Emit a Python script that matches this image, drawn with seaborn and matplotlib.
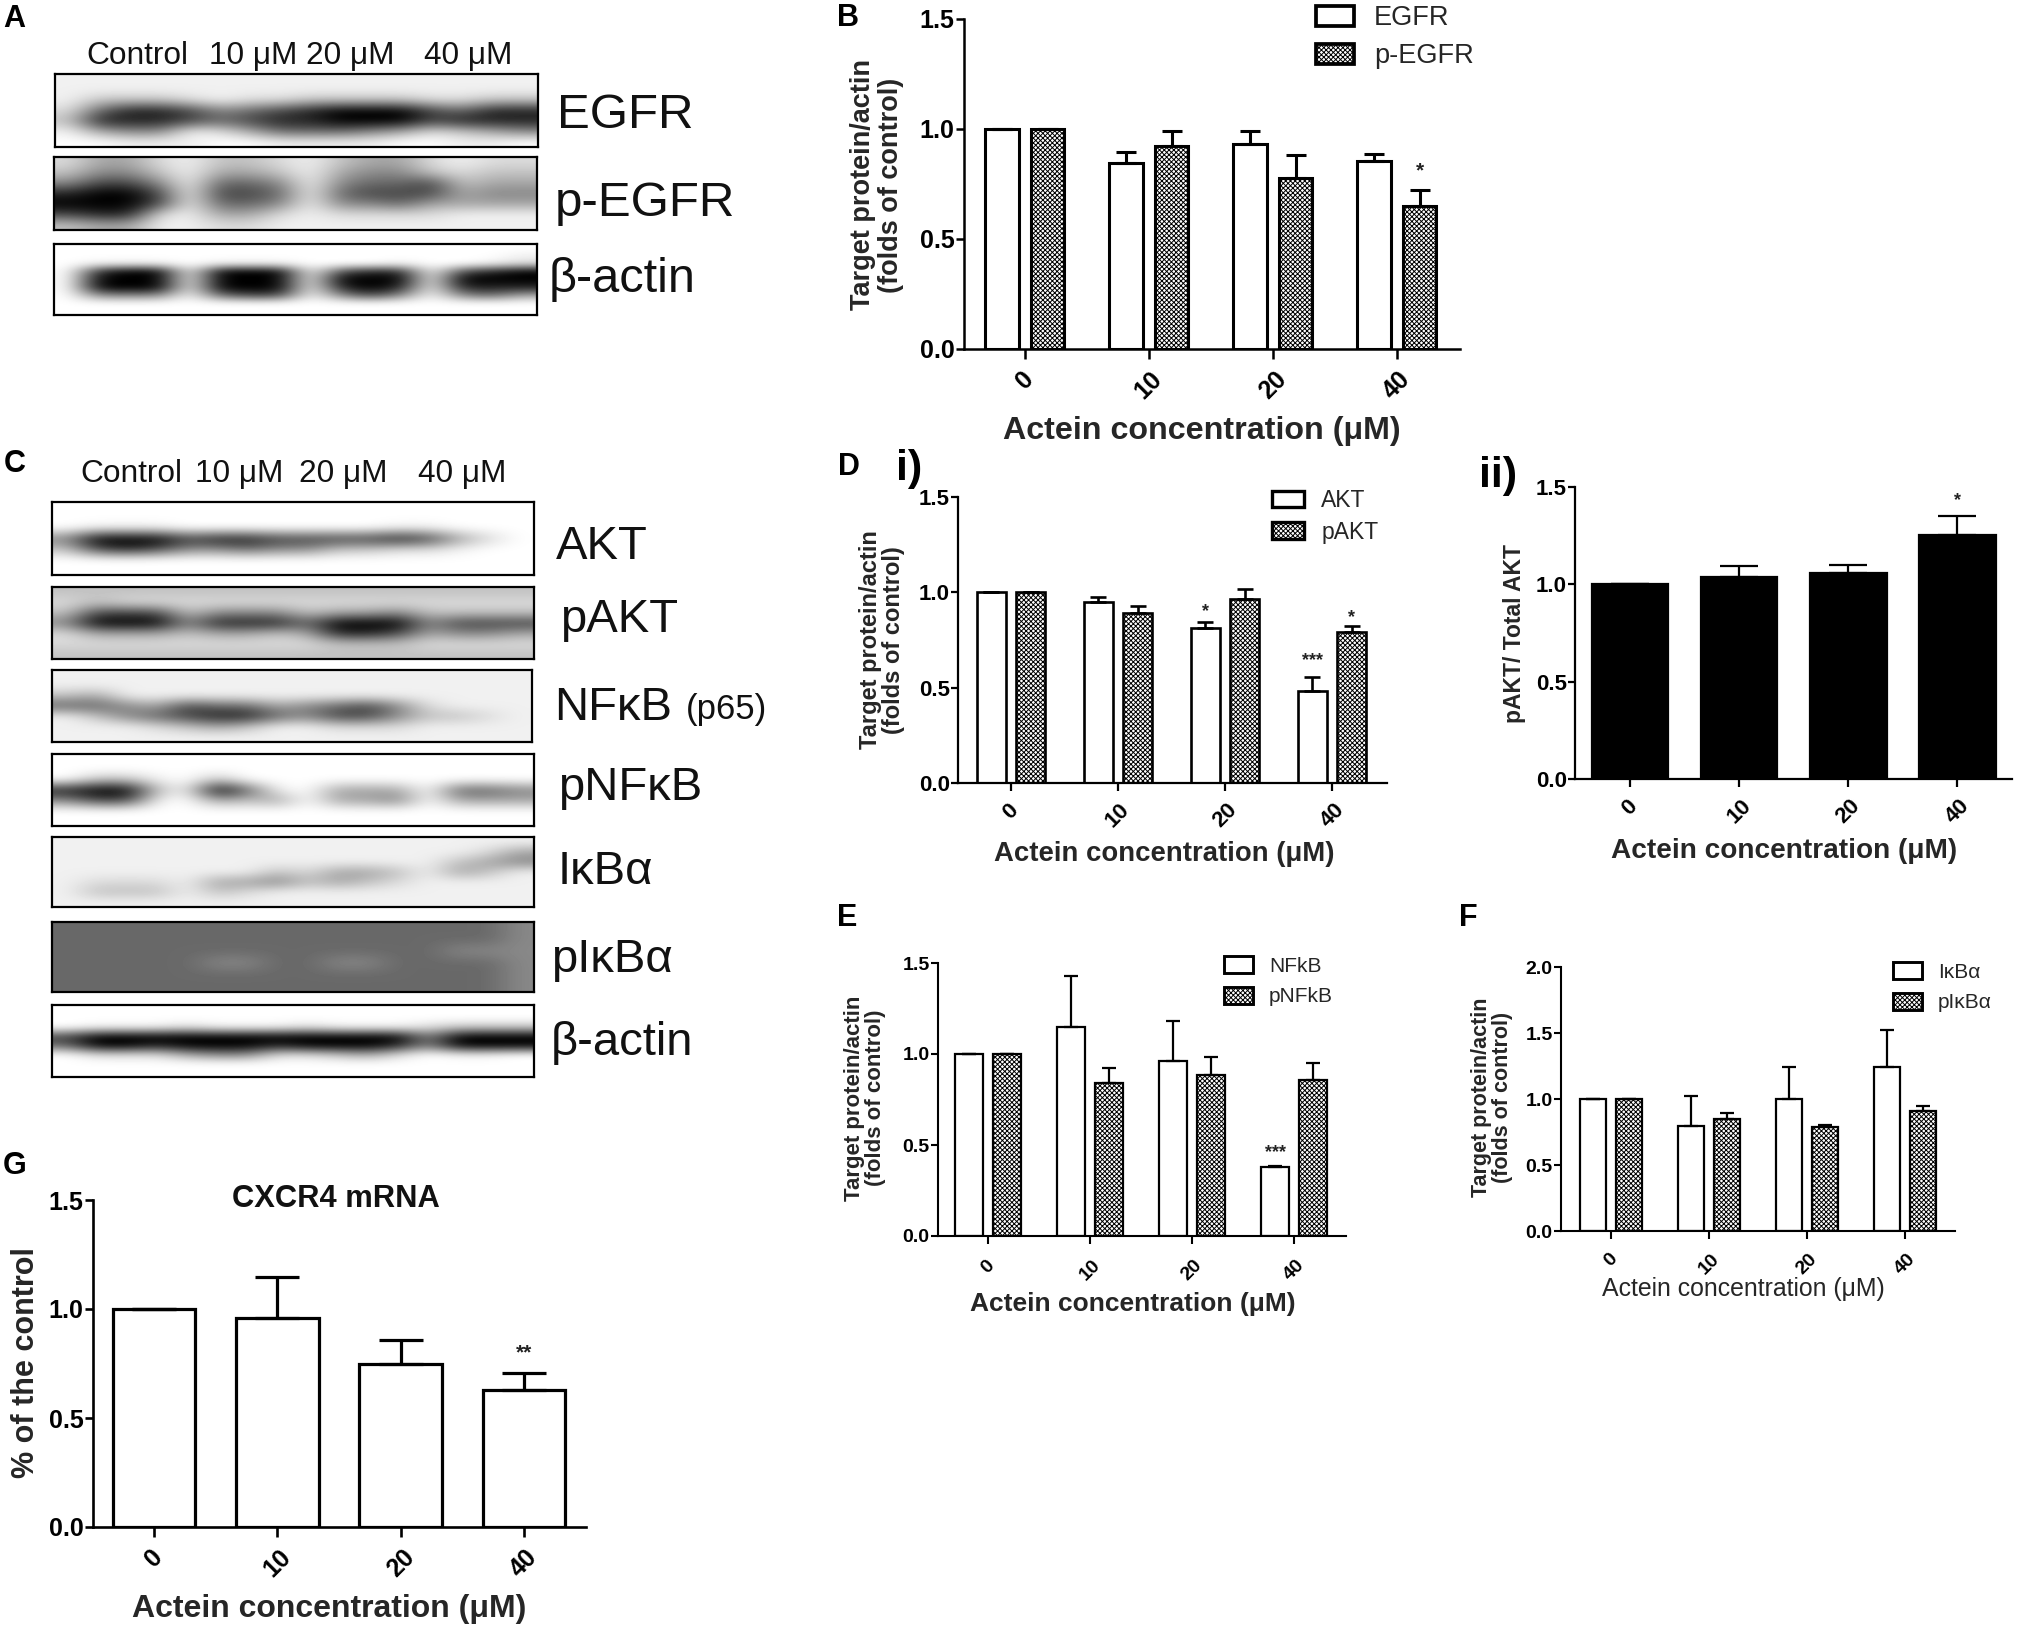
import numpy as np
import pandas as pd
import matplotlib
matplotlib.use('Agg')
import matplotlib.pyplot as plt
import seaborn as sns

W, H = 2021, 1632

conc = ['0', '10', '20', '40']
xlab = 'Actein concentration (\u03bcM)'
ylab = 'Target protein/actin\n(folds of control)'

# --- bar data (mean, then top of the error bar) ---
egfr = [1.0, 0.847, 0.934, 0.854]
egfr_top = [1.0, 0.895, 0.993, 0.885]
p_egfr = [1.0, 0.922, 0.779, 0.65]
p_egfr_top = [1.0, 0.99, 0.88, 0.723]

akt = [1.0, 0.95, 0.811, 0.48]
akt_top = [1.0, 0.977, 0.846, 0.558]
p_akt = [1.0, 0.893, 0.965, 0.794]
p_akt_top = [1.0, 0.93, 1.017, 0.825]

ratio = [1.0, 1.04, 1.058, 1.253]
ratio_top = [1.0, 1.092, 1.10, 1.353]

nfkb = [1.0, 1.149, 0.962, 0.377]
nfkb_top = [1.0, 1.427, 1.18, 0.384]
p_nfkb = [1.0, 0.843, 0.884, 0.856]
p_nfkb_top = [1.0, 0.924, 0.984, 0.951]

ikba = [1.0, 0.797, 0.997, 1.24]
ikba_top = [1.0, 1.023, 1.24, 1.519]
p_ikba = [1.0, 0.848, 0.79, 0.909]
p_ikba_top = [1.0, 0.891, 0.80, 0.949]

cxcr4 = [1.0, 0.957, 0.75, 0.628]
cxcr4_top = [1.0, 1.148, 0.857, 0.707]

# --- blot darkness, 0 = white and 9 = black ---
blot_egfr = ['1111 1111 1111 1111', '1111 1111 1111 1111', '1333 2122 3333 2233', '2688 7567 8999 7688',
             '3888 7678 8999 7888', '1455 1246 6654 2345', '0011 1001 1110 0110']
blot_p_egfr = ['2442 1332 1344 2122', '3553 1443 1455 3233', '5775 1665 1566 7344', '8997 1776 1677 7455',
               '9997 1665 1556 4444', '7882 1442 1222 2111', '3441 1221 1111 1111']
blot_actin_a = ['0000 0000 0000 0000', '0000 0000 0000 0001', '0111 0111 0001 0012', '0899 0999 0788 0789',
                '0999 0999 0999 0999', '0999 0999 0898 0888', '0555 0677 0575 0564', '0000 0000 0000 0000',
                '0000 0000 0000 0000']
blot_akt = ['0000 0000 0000 0000', '0000 0000 0000 0000', '0111 0000 0001 1000', '5999 7887 7778 7420',
            '3787 5565 5332 2100', '0000 0000 0000 0000', '0000 0000 0000 0000']
blot_p_akt = ['3333 3333 3333 3333', '2322 2222 2222 2222', '3777 3555 3445 3333', '5999 5888 6999 5777',
              '2444 3443 4887 4554', '2222 2222 2333 2222', '3333 3333 3333 3333']
blot_nfkb = ['1111 1111 1111 1111', '1111 1111 1111 1111', '3411 1111 1111 1111', '6654 7664 5675 2111',
             '1356 7886 5775 3321', '1112 3431 1222 1111', '1111 1111 1111 1111']
blot_p_nfkb = ['0000 0000 0000 0000', '0000 0000 0000 0000', '0331 0300 0000 0000', '8993 1961 0444 0665',
               '5771 0434 0445 0444', '0000 0000 0000 0000', '0000 0000 0000 0000']
blot_ikba = ['1111 1111 1111 1111', '1111 1111 1111 1124', '1111 1111 1111 1345', '1111 1113 2443 1431',
             '1222 1445 3432 1111', '1333 1321 1111 1111', '1111 1111 1111 1111']
blot_p_ikba = ['6666 6666 6666 6665', '6666 6666 6666 6665', '6666 6666 6666 6555', '6666 6556 6556 6665',
               '6666 6666 6666 6665', '6666 6666 6666 6665']
blot_actin_c = ['0000 0000 0000 0000', '0000 0000 0000 0000', '0111 2111 2111 2333', '7999 9999 9999 5999',
                '6998 9998 9998 5999', '0222 4552 2342 0110', '0000 0000 0000 0000', '0000 0000 0000 0000']

sns.set_theme(style='ticks')
plt.rcParams['font.family'] = ['Liberation Sans', 'DejaVu Sans']
plt.rcParams['hatch.linewidth'] = 0.7
plt.rcParams['axes.edgecolor'] = 'black'
plt.rcParams['xtick.color'] = 'black'
plt.rcParams['ytick.color'] = 'black'

fig = plt.figure(figsize=(W / 100, H / 100), dpi=100, facecolor='white')


def px_axes(left, top, right, bottom):
    return fig.add_axes([left / W, 1 - bottom / H, (right - left) / W, (bottom - top) / H])


def fig_xy(x, y):
    return x / W, 1 - y / H


def put(x, y, s, size, weight='normal', ha='left', color='#111111'):
    fig.text(*fig_xy(x, y), s, fontsize=size, fontweight=weight, ha=ha, va='center', color=color)


def draw_blot(rows, left, top, right, bottom):
    ax = px_axes(left, top, right, bottom)
    dark = np.array([[int(c) for c in r.replace(' ', '')] for r in rows]) / 9
    # gamma keeps the membrane background pale while the bands stay dark
    ax.imshow(1 - dark ** 1.3, cmap='gray', vmin=0, vmax=1, aspect='auto', interpolation='bicubic')
    ax.set_xticks([])
    ax.set_yticks([])
    for s in ax.spines.values():
        s.set_linewidth(1.6)
        s.set_color('black')


def style_axes(ax, xlim, ymax, p):
    ax.set_xlim(*xlim)
    ax.set_ylim(0, ymax)
    ax.set_yticks(np.arange(0, ymax + 0.01, 0.5))
    ax.set_yticklabels(['%.1f' % v for v in np.arange(0, ymax + 0.01, 0.5)], fontweight='bold', fontsize=p['tick'])
    ax.set_xticks(range(4))
    ax.set_xticklabels(conc, rotation=45, ha='center', fontweight='bold', fontsize=p['tick'])
    ax.tick_params(axis='y', length=p['ticklen'], width=p['lw'], pad=1)
    ax.tick_params(axis='x', length=p['ticklen'] + 1, width=p['lw'], pad=p['xpad'])
    sns.despine(ax=ax)
    ax.spines['left'].set_linewidth(p['lw'])
    ax.spines['bottom'].set_linewidth(p['lw'])
    ax.set_xlabel(p['xlabel'], fontsize=p['xsize'], fontweight=p.get('xweight', 'bold'), va='center')
    ax.xaxis.set_label_coords(*fig_xy(*p['xpos']), transform=fig.transFigure)
    ax.set_ylabel(p['ylabel'], fontsize=p['ysize'], fontweight='bold', va='center', linespacing=1.05)
    ax.yaxis.set_label_coords(*fig_xy(*p['ypos']), transform=fig.transFigure)


def grouped_panel(rect, xlim, ymax, names, means, tops, stars, p):
    ax = px_axes(*rect)
    df = pd.DataFrame({
        'conc': conc * 2,
        'value': means[0] + means[1],
        'protein': [names[0]] * 4 + [names[1]] * 4,
    })
    sns.barplot(data=df, x='conc', y='value', hue='protein', order=conc, hue_order=names, ax=ax,
                palette=['white', 'white'], edgecolor='black', linewidth=p['barlw'],
                width=0.74, gap=0.27, errorbar=None, saturation=1)
    for cont, m, t in zip(ax.containers, means, tops):
        centers = [b.get_x() + b.get_width() / 2 for b in cont]
        m = np.array(m)
        ax.errorbar(centers, m, yerr=[np.zeros(4), np.array(t) - m], fmt='none', ecolor='black',
                    elinewidth=p['barlw'], capsize=p['cap'], capthick=p['barlw'], zorder=1.5)
    for b in ax.containers[1]:
        b.set_hatch(HATCH)
    for lane, series, y, s in stars:
        b = ax.containers[series][lane]
        ax.text(b.get_x() + b.get_width() / 2, y, s, ha='center', va='center',
                fontsize=p['star'], color='#222222', fontweight='bold')
    style_axes(ax, xlim, ymax, p)
    sns.move_legend(ax, 'upper left', bbox_to_anchor=fig_xy(*p['legpos']), bbox_transform=fig.transFigure,
                    frameon=False, title=None, fontsize=p['legsize'], handlelength=p['hlen'],
                    handleheight=p['hhei'], labelspacing=p['lspace'], handletextpad=p['hpad'],
                    borderpad=0, borderaxespad=0)
    leg = ax.get_legend()
    leg.legend_handles[1].set_hatch(HATCH)
    for h in leg.legend_handles:
        h.set_linewidth(p['barlw'] + 0.5)
    return ax


def single_panel(rect, xlim, means, tops, stars, color, width, p):
    ax = px_axes(*rect)
    df = pd.DataFrame({'conc': conc, 'value': means})
    sns.barplot(data=df, x='conc', y='value', order=conc, ax=ax, color=color, edgecolor='black',
                linewidth=p['barlw'], width=width, errorbar=None, saturation=1)
    m = np.array(means)
    ax.errorbar(range(4), m, yerr=[np.zeros(4), np.array(tops) - m], fmt='none', ecolor='black',
                elinewidth=p['barlw'], capsize=p['cap'], capthick=p['barlw'], zorder=1.5)
    for lane, y, s in stars:
        ax.text(lane, y, s, ha='center', va='center', fontsize=p['star'], color='#222222', fontweight='bold')
    style_axes(ax, xlim, 1.5, p)
    return ax


HATCH = 'xxxxxxx'

# --- panel A ---
draw_blot(blot_egfr, 55, 74, 538, 147)
draw_blot(blot_p_egfr, 54, 157, 537, 230)
draw_blot(blot_actin_a, 54, 244, 537, 315)
for x, s in zip([86, 209, 306, 424], ['Control', '10 \u03bcM', '20 \u03bcM', '40 \u03bcM']):
    put(x, 56, s, 22.8)
put(557, 115, 'EGFR', 35.5)
put(555, 203, 'p-EGFR', 35.5)
put(549, 280, '\u03b2-actin', 35)

# --- panel C ---
draw_blot(blot_akt, 52, 502, 534, 575)
draw_blot(blot_p_akt, 52, 587, 534, 659)
draw_blot(blot_nfkb, 52, 670, 532, 742)
draw_blot(blot_p_nfkb, 52, 754, 534, 826)
draw_blot(blot_ikba, 52, 837, 534, 907)
draw_blot(blot_p_ikba, 52, 922, 534, 992)
draw_blot(blot_actin_c, 52, 1005, 534, 1077)
for x, s in zip([80, 195, 299, 418], ['Control', '10 \u03bcM', '20 \u03bcM', '40 \u03bcM']):
    put(x, 474, s, 22.8)
put(556, 547, 'AKT', 34)
put(560, 620, 'pAKT', 34)
put(554, 708, 'NF\u03baB', 34)
put(686, 709, '(p65)', 25)
put(558, 788, 'pNF\u03baB', 34)
put(558, 872, 'I\u03baB\u03b1', 34)
put(551, 960, 'pI\u03baB\u03b1', 34)
put(551, 1043, '\u03b2-actin', 34)

# --- bar panels ---
grouped_panel((964, 19, 1460, 349), (-0.49, 3.51), 1.5, ['EGFR', 'p-EGFR'], [egfr, p_egfr], [egfr_top, p_egfr_top],
              [(3, 1, 0.81, '*')],
              dict(tick=18, ticklen=6, lw=1.8, xpad=6, barlw=2.2, cap=7, star=15, xlabel=xlab, xsize=23.2, xpos=(1202, 431),
                   ylabel=ylab, ysize=19.5, ypos=(877, 185), legpos=(1316, 5), legsize=19.5, hlen=1.4, hhei=0.76,
                   lspace=0.45, hpad=0.75))

grouped_panel((958, 497, 1387, 783), (-0.495, 3.514), 1.5, ['AKT', 'pAKT'], [akt, p_akt], [akt_top, p_akt_top],
              [(2, 0, 0.90, '*'), (3, 0, 0.64, '***'), (3, 1, 0.87, '*')],
              dict(tick=16, ticklen=5, lw=1.6, xpad=6, barlw=1.9, cap=6, star=13, xlabel=xlab, xsize=19.8, xpos=(1164, 854),
                   ylabel=ylab, ysize=17, ypos=(882, 640), legpos=(1272, 489), legsize=16.5, hlen=1.4, hhei=0.76,
                   lspace=0.38, hpad=0.75))

single_panel((1575, 487, 2012, 779), (-0.505, 3.5), ratio, ratio_top, [(3, 1.43, '*')], 'black', 0.7,
             dict(tick=16, ticklen=5, lw=1.6, xpad=6, barlw=1.6, cap=14, star=13, xlabel=xlab, xsize=20.2, xpos=(1784, 851),
                  ylabel='pAKT/ Total AKT', ysize=16.5, ypos=(1515, 634)))

grouped_panel((938, 963, 1346, 1236), (-0.49, 3.51), 1.5, ['NFkB', 'pNFkB'], [nfkb, p_nfkb], [nfkb_top, p_nfkb_top],
              [(3, 0, 0.46, '***')],
              dict(tick=14, ticklen=5, lw=1.5, xpad=9, barlw=1.6, cap=5, star=13, xlabel=xlab, xsize=19, xpos=(1133, 1304),
                   ylabel=ylab, ysize=16, ypos=(865, 1098), legpos=(1224, 956), legsize=15, hlen=1.4, hhei=0.85,
                   lspace=0.55, hpad=0.75))

grouped_panel((1561, 967, 1955, 1231), (-0.51, 3.51), 2.0, ['I\u03baB\u03b1', 'pI\u03baB\u03b1'], [ikba, p_ikba], [ikba_top, p_ikba_top],
              [],
              dict(tick=14, ticklen=5, lw=1.5, xpad=8, barlw=1.6, cap=5, star=13, xlabel=xlab, xsize=17.9, xweight='normal',
                   xpos=(1743, 1289), ylabel=ylab, ysize=15.5, ypos=(1492, 1097), legpos=(1893, 962), legsize=15, hlen=1.4,
                   hhei=0.85, lspace=0.55, hpad=0.75))

ax_g = single_panel((93, 1200, 586, 1527), (-0.495, 3.504), cxcr4, cxcr4_top, [(3, 0.80, '**')], 'white', 0.67,
                    dict(tick=18, ticklen=6, lw=1.9, xpad=6, barlw=2.3, cap=16, star=15, xlabel=xlab, xsize=23, xpos=(329, 1609),
                         ylabel='% of the control', ysize=22, ypos=(26, 1363)))
put(336, 1199, 'CXCR4 mRNA', 22.2, weight='bold', ha='center')

# --- panel letters ---
for x, y, s in [(3, 19, 'A'), (837, 18, 'B'), (4, 464, 'C'), (838, 467, 'D'), (837, 918, 'E'), (1459, 918, 'F'), (3, 1166, 'G')]:
    put(x, y, s, 22, weight='bold', color='black')
put(896, 469, 'i)', 31, weight='bold', color='black')
put(1479, 476, 'ii)', 31, weight='bold', color='black')

fig.savefig('out.png', dpi=100)
